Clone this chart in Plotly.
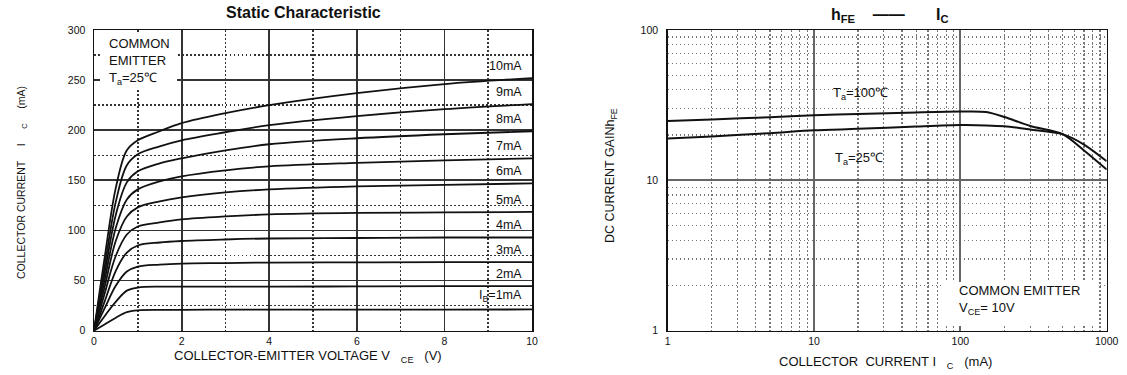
import plotly.graph_objects as go

# ---------------- data ----------------
# Left chart: Ic (mA) vs Vce (V) for Ib = 1..10 mA
vce = [0, 0.25, 0.5, 0.75, 1.0, 1.5, 2, 3, 4, 6, 8, 10]
ib_labels = ["I<sub>B</sub>=1mA", "2mA", "3mA", "4mA", "5mA", "6mA", "7mA", "8mA", "9mA", "10mA"]
ic_1mA = [0, 6.5, 13, 18.5, 20.3, 20.7, 20.8, 21, 21, 21, 21.1, 21.2]
ic_2mA = [0, 15, 29, 40, 43, 44, 44, 44, 44, 44.2, 44.4, 44.5]
ic_3mA = [0, 23, 45, 59, 64, 66, 67, 67.5, 68, 68.2, 68.4, 68.5]
ic_4mA = [0, 30, 60, 78, 85, 88, 89.5, 91, 92, 92.5, 93, 93]
ic_5mA = [0, 38, 75, 96, 104, 108, 111, 114, 116, 117.5, 118, 118.5]
ic_6mA = [0, 45, 90, 114, 123, 129, 133, 138, 141, 144, 145.5, 147]
ic_7mA = [0, 52, 103, 131, 141, 149, 154, 160, 164, 167.5, 170, 172]
ic_8mA = [0, 59, 116, 148, 159, 167, 172, 180, 186, 192, 196, 199]
ic_9mA = [0, 66, 129, 165, 176, 184, 190, 198, 205, 214, 221, 226]
ic_10mA = [0, 75, 143, 180, 190, 199, 207, 217, 225, 237, 246, 252]
ic_curves = [ic_1mA, ic_2mA, ic_3mA, ic_4mA, ic_5mA, ic_6mA, ic_7mA, ic_8mA, ic_9mA, ic_10mA]
left_xticks = [0, 2, 4, 6, 8, 10]
left_yticks = [0, 50, 100, 150, 200, 250, 300]

# Right chart: hFE vs Ic (mA)
ic_ma = [1, 2, 5, 10, 20, 50, 100, 150, 200, 300, 500, 700, 1000]
hfe_100C = [24.8, 25.4, 26.3, 27.1, 27.6, 28.3, 28.7, 28.5, 26.4, 23.0, 20.3, 15.8, 11.8]
hfe_25C = [19.0, 19.6, 20.6, 21.5, 22.0, 22.8, 23.3, 23.2, 22.9, 21.8, 20.3, 17.3, 13.4]
right_xticks = [1, 10, 100, 1000]
right_yticks = [1, 10, 100]

# ---------------- figure ----------------
W, H = 1127, 375
FONT = "Liberation Sans, Arial, sans-serif"
NB = "\u00a0"

def px(x):
    return x / W

def py(y):
    return 1 - y / H

fig = go.Figure()

for ys in ic_curves:
    fig.add_trace(go.Scatter(x=vce, y=ys, mode="lines", line=dict(color="#111", width=1.8, shape="spline", smoothing=1.0),
                             xaxis="x", yaxis="y", showlegend=False, hoverinfo="skip"))

for ys in (hfe_100C, hfe_25C):
    fig.add_trace(go.Scatter(x=ic_ma, y=ys, mode="lines", line=dict(color="#111", width=2, shape="spline", smoothing=0.8),
                             xaxis="x2", yaxis="y2", showlegend=False, hoverinfo="skip"))

tickfont = dict(family=FONT, size=10.5, color="#111")
common_axis = dict(showline=True, mirror=True, linecolor="#111", linewidth=1.5, zeroline=False, ticks="",
                   tickfont=tickfont, showgrid=True, automargin=False)

DOT = "1.5px,2.5px"
left_minor_x = [v + 1 for v in left_xticks[:-1]]
left_minor_y = [v + 25 for v in left_yticks[:-1]]
right_minor_x = [m * d for d in (1, 10, 100) for m in range(2, 10)]
right_minor_y = [m * d for d in (1, 10) for m in range(2, 10)]

fig.update_layout(
    width=W, height=H, autosize=False,
    margin=dict(l=0, r=0, t=0, b=0),
    paper_bgcolor="white", plot_bgcolor="white",
    xaxis=dict(domain=[px(94), px(532)], range=[0, 10], tickvals=left_xticks, anchor="y",
               gridcolor="#333", gridwidth=1.8,
               minor=dict(tickvals=left_minor_x, showgrid=True, gridcolor="#333", gridwidth=1.5, griddash=DOT),
               **common_axis),
    yaxis=dict(domain=[1 - 330.7 / H, 1 - 30 / H], range=[0, 300], tickvals=left_yticks, anchor="x",
               gridcolor="#333", gridwidth=1.8, ticklabelstandoff=5,
               minor=dict(tickvals=left_minor_y, showgrid=True, gridcolor="#333", gridwidth=1.5, griddash=DOT),
               **common_axis),
    xaxis2=dict(type="log", domain=[px(667.7), px(1106.7)], range=[0, 3], tickvals=right_xticks,
                ticktext=[str(v) for v in right_xticks], anchor="y2",
                gridcolor="#666", gridwidth=1.8,
                minor=dict(tickvals=right_minor_x, showgrid=True, gridcolor="#777", gridwidth=1.3, griddash=DOT),
                **common_axis),
    yaxis2=dict(type="log", domain=[1 - 330.7 / H, 1 - 30 / H], range=[0, 2], tickvals=right_yticks,
                ticktext=[str(v) for v in right_yticks], anchor="x2", ticklabelstandoff=6,
                gridcolor="#666", gridwidth=1.8,
                minor=dict(tickvals=right_minor_y, showgrid=True, gridcolor="#777", gridwidth=1.3, griddash=DOT),
                **common_axis),
)

# white boxes behind the notes
fig.add_shape(type="rect", xref="paper", yref="paper", x0=px(100), x1=px(177), y0=py(88), y1=py(32),
              fillcolor="white", line=dict(width=0), layer="above")
fig.add_shape(type="rect", xref="paper", yref="paper", x0=px(942), x1=px(1098), y0=py(326), y1=py(282),
              fillcolor="white", line=dict(width=0), layer="above")

ann = []
f13 = dict(family=FONT, size=13, color="#111")
# titles
ann.append(dict(text="<b>Static Characteristic</b>", x=px(303), y=py(12), xref="paper", yref="paper",
                xanchor="center", yanchor="middle", showarrow=False, font=dict(family=FONT, size=16, color="#111")))
ann.append(dict(text="<b>h<sub>FE</sub>" + NB * 4 + "——" + NB * 7 + "I<sub>C</sub></b>", x=px(829), y=py(15),
                xref="paper", yref="paper", xanchor="left", yanchor="middle", showarrow=False,
                font=dict(family=FONT, size=16, color="#111")))
# axis titles
ann.append(dict(text="COLLECTOR-EMITTER VOLTAGE V" + NB * 3 + "<sub>CE</sub>" + NB * 3 + "(V)", x=px(172), y=py(356),
                xref="paper", yref="paper", xanchor="left", yanchor="middle", showarrow=False, font=f13))
ann.append(dict(text="COLLECTOR" + NB + "CURRENT" + NB * 5 + "I" + NB * 5 + "<sub>C</sub>" + NB * 5 + "(mA)",
                x=px(22), y=py(183), xref="paper", yref="paper", xanchor="center", yanchor="middle",
                textangle=-90, showarrow=False, font=dict(family=FONT, size=10.5, color="#111")))
ann.append(dict(text="COLLECTOR" + NB * 2 + "CURRENT I" + NB * 3 + "<sub>C</sub>" + NB * 3 + "(mA)", x=px(777), y=py(362),
                xref="paper", yref="paper", xanchor="left", yanchor="middle", showarrow=False, font=f13))
ann.append(dict(text="DC CURRENT GAINh<sub>FE</sub>", x=px(611), y=py(176), xref="paper", yref="paper",
                xanchor="center", yanchor="middle", textangle=-90, showarrow=False,
                font=dict(family=FONT, size=12.5, color="#111")))
# notes
ann.append(dict(text="COMMON<br>EMITTER<br>T<sub>a</sub>=25℃", x=px(107), y=py(61.5), xref="paper", yref="paper",
                xanchor="left", yanchor="middle", align="left", showarrow=False, font=f13))
ann.append(dict(text="COMMON EMITTER<br>V<sub>CE</sub>= 10V", x=px(957), y=py(300), xref="paper", yref="paper",
                xanchor="left", yanchor="middle", align="left", showarrow=False, font=f13))
ann.append(dict(text="T<sub>a</sub>=100℃", x=px(831), y=py(94), xref="paper", yref="paper",
                xanchor="left", yanchor="middle", showarrow=False, font=f13))
ann.append(dict(text="T<sub>a</sub>=25℃", x=px(833), y=py(159), xref="paper", yref="paper",
                xanchor="left", yanchor="middle", showarrow=False, font=f13))
# curve labels (Ib)
for lab, ys in zip(ib_labels, ic_curves):
    ann.append(dict(text=lab, x=9.82, y=ys[-1], xref="x", yref="y", xanchor="right", yanchor="bottom",
                    yshift=3, showarrow=False, font=dict(family=FONT, size=12.5, color="#111")))

fig.update_layout(annotations=ann)
fig.write_html("out.html", config={"displayModeBar": False, "staticPlot": True},
               post_script="document.body.style.margin='0px';document.body.style.padding='0px';")
